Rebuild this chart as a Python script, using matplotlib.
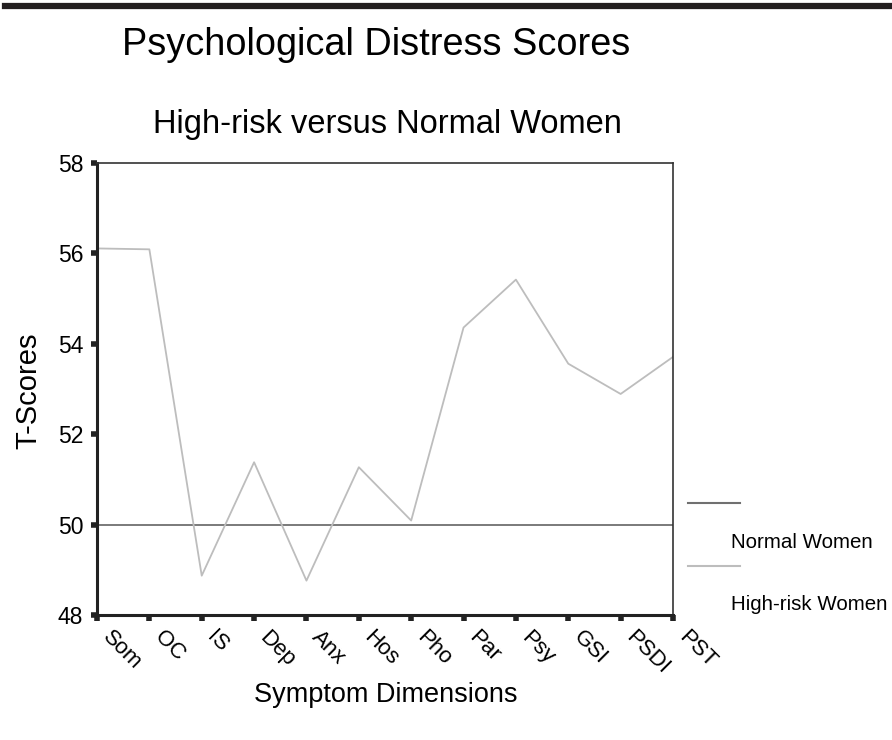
import matplotlib
matplotlib.use("Agg")
import matplotlib.pyplot as plt
import matplotlib.transforms as mtransforms
from matplotlib.lines import Line2D

plt.rcParams['font.family'] = ['Liberation Sans', 'DejaVu Sans']

categories = ["Som", "OC", "IS", "Dep", "Anx", "Hos", "Pho", "Par", "Psy", "GSI", "PSDI", "PST"]
normal_women = [50, 50, 50, 50, 50, 50, 50, 50, 50, 50, 50, 50]
high_risk_women = [56.11, 56.09, 48.87, 51.38, 48.76, 51.27, 50.09, 54.36, 55.42, 53.56, 52.89, 53.71]
yticks = [48, 50, 52, 54, 56, 58]

W, H = 892, 740
fig = plt.figure(figsize=(W / 100, H / 100), dpi=100)

ax = fig.add_axes([97 / W, 1 - 615 / H, (673 - 97) / W, (615 - 163) / H])
x = list(range(len(categories)))
ax.plot(x, normal_women, color='#707070', lw=1.3)
ax.plot(x, high_risk_women, color='#bdbdbd', lw=1.3)

ax.set_xlim(0, len(categories) - 1)
ax.set_ylim(48, 58)
ax.set_yticks(yticks)
ax.set_yticklabels([str(v) for v in yticks], fontsize=16.5)
ax.set_xticks(x)
ax.set_xticklabels(categories, fontsize=16, rotation=-45, ha='left', va='top', rotation_mode='anchor')
ax.tick_params(axis='both', direction='out', length=4, width=4, color='#222222')
ax.tick_params(axis='x', pad=9)
ax.tick_params(axis='y', pad=6)

offset = mtransforms.ScaledTranslation(16 / 100, 6 / 100, fig.dpi_scale_trans)
for lab in ax.get_xticklabels():
    lab.set_transform(lab.get_transform() + offset)

for side in ['left', 'bottom']:
    ax.spines[side].set_linewidth(2.2)
    ax.spines[side].set_color('#222222')
for side in ['top', 'right']:
    ax.spines[side].set_linewidth(1.2)
    ax.spines[side].set_color('#333333')

fig.text(28 / W, 1 - 391 / H, 'T-Scores', fontsize=21, rotation=90, ha='center', va='center')
fig.text(386 / W, 1 - 695 / H, 'Symptom Dimensions', fontsize=19.5, ha='center', va='center')

fig.text(376 / W, 1 - 45 / H, 'Psychological Distress Scores', fontsize=27.3, ha='center', va='center')
fig.text(387 / W, 1 - 125 / H, 'High-risk versus Normal Women', fontsize=23.5, ha='center', va='center')

# top black bar
fig.add_artist(Line2D([5 / W, 1.0], [1 - 5.5 / H, 1 - 5.5 / H], color='#231f20', lw=4.5, transform=fig.transFigure))

# legend
legend_items = [("Normal Women", '#707070', 503, 542), ("High-risk Women", '#bdbdbd', 566, 605)]
for label, col, ly, ty in legend_items:
    fig.add_artist(Line2D([688 / W, 740 / W], [1 - ly / H, 1 - ly / H], color=col, lw=1.5, transform=fig.transFigure))
    fig.text(731 / W, 1 - ty / H, label, fontsize=14.8, ha='left', va='center')

fig.savefig('out.png', dpi=100)
